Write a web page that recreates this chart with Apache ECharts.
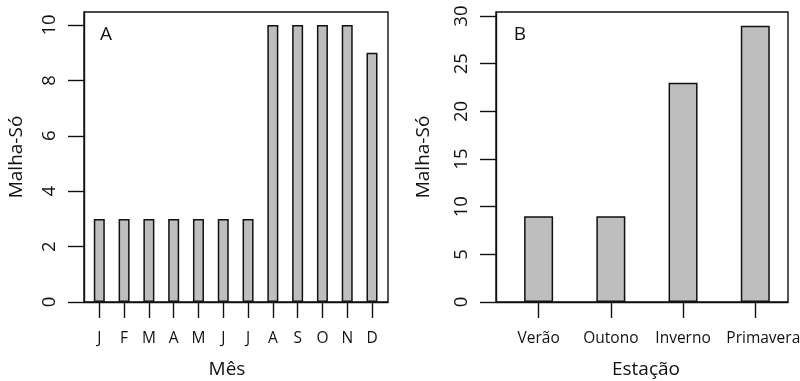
<!DOCTYPE html>
<html><head><meta charset="utf-8">
<script src="https://cdn.jsdelivr.net/npm/echarts@6/dist/echarts.min.js"></script>
<style>html,body{margin:0;padding:0;background:#fff}#c{width:800px;height:381px}</style>
</head><body><div id="c"></div>
<script>
const months = ['J','F','M','A','M','J','J','A','S','O','N','D'];
const monthValues = [3,3,3,3,3,3,3,10,10,10,10,9];
const seasons = ['Verão','Outono','Inverno','Primavera'];
const seasonValues = [9,9,23,29];
const monthTicks = [0,2,4,6,8,10];
const seasonTicks = [0,5,10,15,20,25,30];

const FONT = 'Open Sans';
const INK = '#111111';
const monthPos = months.map((_, i) => i + 1);
const seasonPos = seasons.map((_, i) => i + 1);

function xAxisCfg(gridIndex, min, max, pos, names, lastShift) {
  return {
    type: 'value', gridIndex, min, max,
    axisLine: {show: true, lineStyle: {color: INK, width: 1.4}},
    axisTick: {show: true, length: 16, customValues: pos, lineStyle: {color: INK, width: 1.4}},
    axisLabel: {customValues: pos, margin: 29, fontFamily: FONT, fontSize: 15.5, color: INK,
      formatter: v => {
        const i = Math.round(v) - 1;
        const t = names[i] || '';
        return (lastShift && i === names.length - 1) ? '{s|' + t + '}' : t;
      },
      rich: {s: {fontFamily: FONT, fontSize: 15.5, color: INK, padding: [0, 0, 0, lastShift || 0]}}
    },
    splitLine: {show: false}
  };
}
function yAxisCfg(gridIndex, max, ticks) {
  return {
    type: 'value', gridIndex, min: 0, max,
    axisLine: {show: true, lineStyle: {color: INK, width: 1.4}},
    axisTick: {show: true, length: 16, customValues: ticks, lineStyle: {color: INK, width: 1.4}},
    axisLabel: {customValues: ticks, rotate: 90, margin: 25, fontFamily: FONT, fontSize: 18.5, color: INK},
    splitLine: {show: false}
  };
}
const barStyle = {color: '#bebebe', borderColor: INK, borderWidth: 1.5};

const chart = echarts.init(document.getElementById('c'), null, {renderer: 'canvas'});
chart.setOption({
  animation: false,
  backgroundColor: '#fff',
  grid: [
    {left: 84, top: 12, width: 304, height: 290, show: true, borderColor: INK, borderWidth: 1.4, backgroundColor: 'transparent', containLabel: false, outerBoundsMode: 'none'},
    {left: 496, top: 12, width: 292, height: 290, show: true, borderColor: INK, borderWidth: 1.4, backgroundColor: 'transparent', containLabel: false, outerBoundsMode: 'none'}
  ],
  xAxis: [
    xAxisCfg(0, 0.383, 12.645, monthPos, months, 0),
    xAxisCfg(1, 0.41, 4.453, seasonPos, seasons, 16)
  ],
  yAxis: [
    yAxisCfg(0, 10.47, monthTicks),
    yAxisCfg(1, 30.43, seasonTicks)
  ],
  series: [
    {type: 'bar', xAxisIndex: 0, yAxisIndex: 0, barWidth: 11, itemStyle: barStyle,
     data: monthValues.map((v, i) => [monthPos[i], v])},
    {type: 'bar', xAxisIndex: 1, yAxisIndex: 1, barWidth: 29, itemStyle: barStyle,
     data: seasonValues.map((v, i) => [seasonPos[i], v])}
  ],
  graphic: [
    {type: 'text', x: 106, y: 35, style: {text: 'A', font: '19px "Open Sans"', fill: INK, textAlign: 'center', textVerticalAlign: 'middle'}},
    {type: 'text', x: 520, y: 35, style: {text: 'B', font: '19px "Open Sans"', fill: INK, textAlign: 'center', textVerticalAlign: 'middle'}},
    {type: 'text', x: 227, y: 370, style: {text: 'Mês', font: '19px "Open Sans"', fill: INK, textAlign: 'center', textVerticalAlign: 'middle'}},
    {type: 'text', x: 646, y: 370, style: {text: 'Estação', font: '19px "Open Sans"', fill: INK, textAlign: 'center', textVerticalAlign: 'middle'}},
    {type: 'text', x: 17, y: 157, rotation: Math.PI / 2, style: {text: 'Malha-Só', font: '19px "Open Sans"', fill: INK, textAlign: 'center', textVerticalAlign: 'middle'}},
    {type: 'text', x: 424, y: 157, rotation: Math.PI / 2, style: {text: 'Malha-Só', font: '19px "Open Sans"', fill: INK, textAlign: 'center', textVerticalAlign: 'middle'}}
  ]
});
</script></body></html>
